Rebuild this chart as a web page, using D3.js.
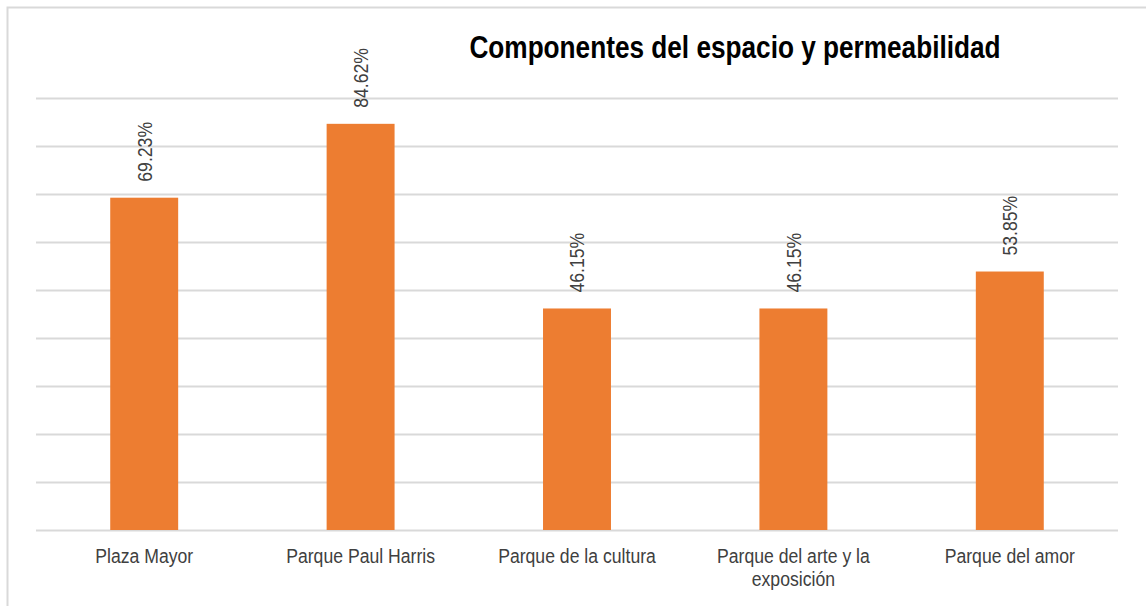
<!DOCTYPE html>
<html lang="es">
<head>
<meta charset="utf-8">
<title>Componentes del espacio y permeabilidad</title>
<script src="https://cdn.jsdelivr.net/npm/d3@7"></script>
<style>
  body { margin: 0; background: #fff; }
  text { font-family: "Liberation Sans", Arial, sans-serif; }
</style>
</head>
<body>
<svg width="1146" height="606"></svg>
<script>
var categories = ["Plaza Mayor", "Parque Paul Harris", "Parque de la cultura", "Parque del arte y la|exposición", "Parque del amor"];
var values = [0.6923, 0.8462, 0.4615, 0.4615, 0.5385];
var gridTicks = [0, 0.1, 0.2, 0.3, 0.4, 0.5, 0.6, 0.7, 0.8, 0.9];

var svg = d3.select("svg");
var narrow = 0.84; // squeeze text to look like Arial Narrow

// chart border (runs off right and bottom edges)
svg.append("rect")
   .attr("x", 7.5).attr("y", 7.5)
   .attr("width", 1160).attr("height", 620)
   .attr("fill", "none")
   .attr("stroke", "#d9d9d9")
   .attr("stroke-width", 2);

var x = d3.scaleBand()
    .domain(categories)
    .range([36, 1118])
    .paddingInner(0.686)
    .paddingOuter(0.343);

var y = d3.scaleLinear().domain([0, 0.9]).range([530, 98]);

// gridlines
svg.append("g").selectAll("line")
   .data(gridTicks)
   .enter().append("line")
   .attr("x1", 36).attr("x2", 1118)
   .attr("y1", function(d) { return Math.round(y(d)) + 0.5; })
   .attr("y2", function(d) { return Math.round(y(d)) + 0.5; })
   .attr("stroke", "#d9d9d9")
   .attr("stroke-width", 2);

// bars
svg.append("g").selectAll("rect")
   .data(values)
   .enter().append("rect")
   .attr("x", function(d, i) { return x(categories[i]); })
   .attr("y", function(d) { return y(d); })
   .attr("width", x.bandwidth())
   .attr("height", function(d) { return y(0) - y(d); })
   .attr("fill", "#ed7d31");

// value labels, rotated
svg.append("g").selectAll("text")
   .data(values)
   .enter().append("text")
   .attr("transform", function(d, i) {
       var cx = x(categories[i]) + x.bandwidth() / 2;
       return "translate(" + cx + "," + (y(d) - 16) + ") rotate(-90) scale(" + narrow + ",1)";
   })
   .attr("dy", "0.35em")
   .attr("font-size", "21px")
   .attr("fill", "#404040")
   .text(function(d) { return (d * 100).toFixed(2) + "%"; });

// category labels
var cat = svg.append("g").selectAll("text")
   .data(categories)
   .enter().append("text")
   .attr("transform", function(d) {
       return "translate(" + (x(d) + x.bandwidth() / 2) + ",563) scale(" + narrow + ",1)";
   })
   .attr("text-anchor", "middle")
   .attr("font-size", "21px")
   .attr("fill", "#404040");

cat.selectAll("tspan")
   .data(function(d) { return d.split("|"); })
   .enter().append("tspan")
   .attr("x", 0)
   .attr("dy", function(d, i) { return i === 0 ? 0 : 23; })
   .text(function(d) { return d; });

// title
svg.append("text")
   .attr("transform", "translate(735,58) scale(0.845,1)")
   .attr("text-anchor", "middle")
   .attr("font-size", "31px")
   .attr("font-weight", "bold")
   .attr("fill", "#000")
   .text("Componentes del espacio y permeabilidad");
</script>
</body>
</html>
